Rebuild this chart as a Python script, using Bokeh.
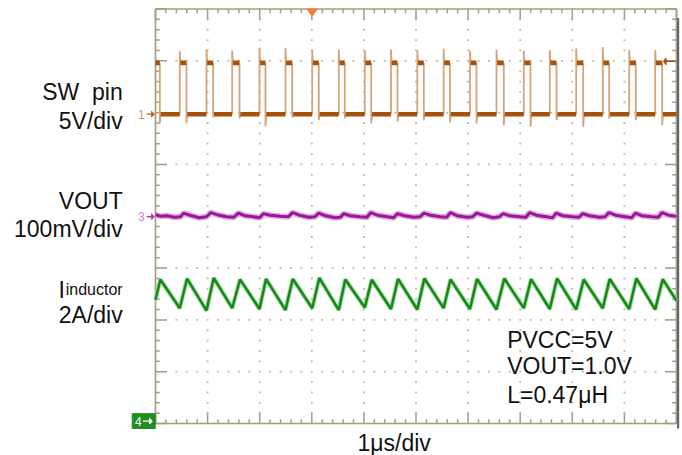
from bokeh.plotting import figure
from bokeh.models import Range1d
from bokeh.core.properties import value
from bokeh.embed import file_html
from bokeh.resources import INLINE

# ---------------- data ----------------
x_divisions = 10          # 1 us / div
y_divisions = 8
minor_per_div = 5

ch1_offset_div = 5.97     # SW pin, 5 V/div
ch1_v_per_div = 5.0
ch3_offset_div = 3.99     # VOUT, 100 mV/div
ch3_mv_per_div = 100.0
ch4_offset_div = 0.0      # inductor current, 2 A/div
ch4_a_per_div = 2.0

trigger_time_us = 3.008
trigger_level_v = 5.1

# SW pin switching edges (us) and levels (V)
sw_fall_us = [0.083, 0.595, 1.107, 1.612, 2.111, 2.624, 3.134, 3.633, 4.140, 4.645,
              5.150, 5.652, 6.161, 6.685, 7.198, 7.697, 8.209, 8.708, 9.219, 9.725]
sw_rise_us = [0.466, 0.979, 1.472, 1.996, 2.495, 3.008, 3.518, 4.017, 4.520,
              5.025, 5.530, 6.036, 6.545, 7.069, 7.568, 8.075, 8.585, 9.092, 9.591]
sw_overshoot_v = [1.13, 1.28, 1.19, 1.45, 1.45, 1.28, 1.28, 1.19, 1.30, 1.25,
                  1.35, 1.20, 1.28, 1.19, 1.23, 1.38, 1.54, 1.23, 1.23]
sw_undershoot_v = [-0.90, -0.90, -0.32, -0.42, -1.16, -0.32, -0.58, -0.42, -0.90, -0.70,
                   -0.60, -0.80, -0.90, -1.06, -1.22, -0.58, -1.22, -0.42, -0.58, -1.06]
sw_high_v = 4.95
sw_low_v = 0.0

# VOUT ripple (us, mV relative to its marker)
vout_t_us = [0.00, 0.10, 0.22, 0.36, 0.48, 0.54, 0.66, 0.84, 0.98, 1.06, 1.18, 1.36, 1.50, 1.59,
             1.72, 1.88, 2.00, 2.07, 2.20, 2.40, 2.55, 2.63, 2.76, 2.95, 3.06, 3.13, 3.26, 3.45,
             3.55, 3.61, 3.74, 3.92, 4.06, 4.13, 4.26, 4.45, 4.57, 4.64, 4.78, 4.96, 5.08, 5.15,
             5.28, 5.46, 5.59, 5.66, 5.79, 5.98, 6.09, 6.16, 6.30, 6.48, 6.60, 6.67, 6.80, 6.99,
             7.11, 7.18, 7.31, 7.50, 7.62, 7.69, 7.82, 8.01, 8.13, 8.20, 8.33, 8.52, 8.63, 8.70,
             8.83, 9.02, 9.14, 9.21, 9.34, 9.53, 9.65, 9.72, 9.85, 10.00]
vout_mv = [4, 1, 2, -1, 0, 7, 3, -2, 0, 8, 4, 0, -1, 7,
           2, 0, -2, 6, 3, 1, 0, 8, 3, -1, 0, 7, 2, -2,
           -1, 6, 2, 0, -1, 8, 3, 0, -2, 6, 2, -1, 0, 7,
           3, 0, -1, 8, 2, -1, 0, 7, 3, -2, 0, 6, 2, 0,
           -1, 8, 3, 0, -2, 7, 2, 0, -1, 6, 2, -1, 0, 8,
           3, 0, -2, 7, 2, 0, -1, 8, 3, 1]

# inductor current turning points (us, A)
il_t_us = [0.000, 0.093, 0.466, 0.605, 0.979, 1.117, 1.472, 1.622, 1.996, 2.121, 2.495, 2.634,
           3.008, 3.144, 3.518, 3.643, 4.017, 4.150, 4.520, 4.655, 5.025, 5.160, 5.530, 5.662,
           6.036, 6.171, 6.545, 6.695, 7.069, 7.208, 7.568, 7.707, 8.075, 8.219, 8.585, 8.718,
           9.092, 9.229, 9.591, 9.735, 10.000]
il_a = [4.78, 5.56, 4.45, 5.59, 4.36, 5.62, 4.45, 5.56, 4.42, 5.58, 4.38, 5.58,
        4.45, 5.62, 4.38, 5.56, 4.48, 5.55, 4.42, 5.58, 4.40, 5.60, 4.45, 5.56,
        4.42, 5.58, 4.40, 5.60, 4.45, 5.57, 4.42, 5.60, 4.40, 5.56, 4.45, 5.58,
        4.42, 5.60, 4.40, 5.57, 4.74]

ch_labels = [["SW\u00a0 pin", "5V/div"], ["VOUT", "100mV/div"], ["I", "2A/div"]]
ind_sub = "inductor"
note_lines = ["PVCC=5V", "VOUT=1.0V", "L=0.47\u03bcH"]
timebase_label = "1\u03bcs/div"

# ---------------- styling ----------------
FONT = value("Liberation Sans")
BORDER = "#a39e7f"
DOT = "#bcb89c"
SW_DARK, SW_LIGHT = "#a4520c", "#d3a57c"
VO_DARK, VO_LIGHT = "#9a179a", "#deb0de"
IL_DARK, IL_LIGHT = "#148a14", "#9ad49a"

PX_X = 52.1      # px per us
PX_Y = 51.8125   # px per div
W, H = 682, 455
X0, Y8 = 155, 8.5   # pixel position of the graticule's left edge / top edge

p = figure(width=W, height=H,
           x_range=Range1d(-X0 / PX_X, (W - X0) / PX_X),
           y_range=Range1d(8 - (H - Y8) / PX_Y, 8 + Y8 / PX_Y),
           x_axis_type=None, y_axis_type=None, toolbar_location=None,
           output_backend="svg", min_border=0, outline_line_color=None,
           background_fill_color="white", border_fill_color="white")

# ---- graticule dots ----
dx, dy = [], []
for k in range(1, x_divisions):
    for j in range(1, y_divisions * minor_per_div):
        dx.append(k)
        dy.append(j / minor_per_div)
for m in range(1, y_divisions):
    for k in range(1, x_divisions * minor_per_div):
        if k % minor_per_div:
            dx.append(k / minor_per_div)
            dy.append(m)
p.scatter(dx, dy, marker="square", size=1.8, color=DOT, line_color=None)

# ---- border ticks ----
minor_x, major_x = 4.3 / PX_X, 10.7 / PX_X
minor_y, major_y = 4.3 / PX_Y, 10.7 / PX_Y
tx0, tx1, ty0, ty1 = [], [], [], []
for k in range(x_divisions * minor_per_div + 1):
    x = k / minor_per_div
    ln = major_y if k % minor_per_div == 0 else minor_y
    tx0 += [x, x]; tx1 += [x, x]
    ty0 += [y_divisions, 0]; ty1 += [y_divisions - ln, ln]
for j in range(y_divisions * minor_per_div + 1):
    y = j / minor_per_div
    ln = major_x if j % minor_per_div == 0 else minor_x
    ty0 += [y, y]; ty1 += [y, y]
    tx0 += [0, x_divisions]; tx1 += [ln, x_divisions - ln]
p.segment(tx0, ty0, tx1, ty1, line_color=BORDER, line_width=1.5)

# frame
p.multi_line([[0, x_divisions, x_divisions, 0, 0]],
             [[0, 0, y_divisions, y_divisions, 0]], line_color=BORDER, line_width=1.7)
p.segment([x_divisions + 1.6 / PX_X], [y_divisions - 9 / PX_Y],
          [x_divisions + 1.6 / PX_X], [-5 / PX_Y], line_color="#5e6875", line_width=2.2)

# ---- SW pin trace ----
def ch1(v):
    return ch1_offset_div + v / ch1_v_per_div

d_r, d_f = 0.012, 0.016
plat_x, plat_y, edge_x, edge_y = [], [], [], []
plat_x.append([0, sw_fall_us[0]]); plat_y.append([ch1(sw_high_v)] * 2)
for i, f in enumerate(sw_fall_us):
    edge_x.append([f, f, f + d_f])
    edge_y.append([ch1(sw_high_v), ch1(sw_undershoot_v[i]), ch1(sw_low_v)])
    nxt = sw_rise_us[i] if i < len(sw_rise_us) else x_divisions
    plat_x.append([f + d_f, nxt]); plat_y.append([ch1(sw_low_v)] * 2)
    if i < len(sw_rise_us):
        r = sw_rise_us[i]
        edge_x.append([r, r, r + d_r])
        edge_y.append([ch1(sw_low_v), ch1(sw_high_v + sw_overshoot_v[i]), ch1(sw_high_v)])
        plat_x.append([r + d_r, sw_fall_us[i + 1]]); plat_y.append([ch1(sw_high_v)] * 2)
p.multi_line(edge_x, edge_y, line_color=SW_LIGHT, line_width=1.8)
p.multi_line(plat_x, plat_y, line_color=SW_DARK, line_width=4.6)

# ---- VOUT trace ----
vy = [ch3_offset_div + v / ch3_mv_per_div for v in vout_mv]
p.line(vout_t_us, vy, line_color=VO_LIGHT, line_width=6)
p.line(vout_t_us, vy, line_color=VO_DARK, line_width=3)

# ---- inductor current trace ----
iy = [ch4_offset_div + a / ch4_a_per_div for a in il_a]
p.line(il_t_us, iy, line_color=IL_LIGHT, line_width=4.2)
p.line(il_t_us, iy, line_color=IL_DARK, line_width=2.4)

# ---- channel markers ----
for off, tcol, acol, lab in [(ch1_offset_div, "#c8966a", "#b06a30", "1"),
                             (ch3_offset_div, "#d27ad2", "#b040b0", "3")]:
    p.text([-0.27], [off], text=[lab], text_font=FONT, text_font_size="12px",
           text_align="center", text_baseline="middle", text_color=tcol)
    p.segment([-0.17], [off], [-0.06], [off], line_color=acol, line_width=1.3)
    p.patch([-0.02, -0.075, -0.075], [off, off + 0.055, off - 0.055], color=acol)

p.quad(left=[-0.447], right=[-0.005], bottom=[ch4_offset_div - 0.095],
       top=[ch4_offset_div + 0.19], color="#1f8f1f")
p.text([-0.33], [ch4_offset_div + 0.045], text=["4"], text_font=FONT, text_font_size="12px",
       text_align="center", text_baseline="middle", text_color="white")
p.segment([-0.24], [ch4_offset_div + 0.045], [-0.1], [ch4_offset_div + 0.045],
          line_color="white", line_width=1.3)
p.patch([-0.06, -0.115, -0.115],
        [ch4_offset_div + 0.045, ch4_offset_div + 0.1, ch4_offset_div - 0.01], color="white")

# trigger position (top) and level (right)
p.patch([trigger_time_us - 0.102, trigger_time_us + 0.102, trigger_time_us],
        [y_divisions, y_divisions, y_divisions - 0.135], color="#f97a34")
lvl = ch1(trigger_level_v)
p.segment([9.78], [lvl], [9.99], [lvl], line_color=SW_DARK, line_width=1.4)
p.patch([9.745, 9.80, 9.80], [lvl, lvl + 0.065, lvl - 0.065], color=SW_DARK)

# ---- texts ----
lab_x = -0.63
p.text([lab_x] * 5, [6.39, 5.83, 4.29, 3.76, 2.10],
       text=[ch_labels[0][0], ch_labels[0][1], ch_labels[1][0], ch_labels[1][1], ch_labels[2][1]],
       text_font=FONT, text_font_size="23px", text_align="right",
       text_baseline="alphabetic", text_color="#111111")
p.text([-1.74], [2.58], text=[ch_labels[2][0]], text_font=FONT, text_font_size="23px",
       text_align="right", text_baseline="alphabetic", text_color="#111111")
p.text([lab_x], [2.58], text=[ind_sub], text_font=FONT, text_font_size="16px",
       text_align="right", text_baseline="alphabetic", text_color="#111111")
p.text([6.75] * 3, [1.62, 1.106, 0.555], text=note_lines, text_font=FONT,
       text_font_size="23px", text_align="left", text_baseline="alphabetic",
       text_color="#111111")
p.text([4.58], [-0.37], text=[timebase_label], text_font=FONT, text_font_size="23px",
       text_align="center", text_baseline="alphabetic", text_color="#111111")

open("out.html", "w").write(file_html(p, INLINE))
